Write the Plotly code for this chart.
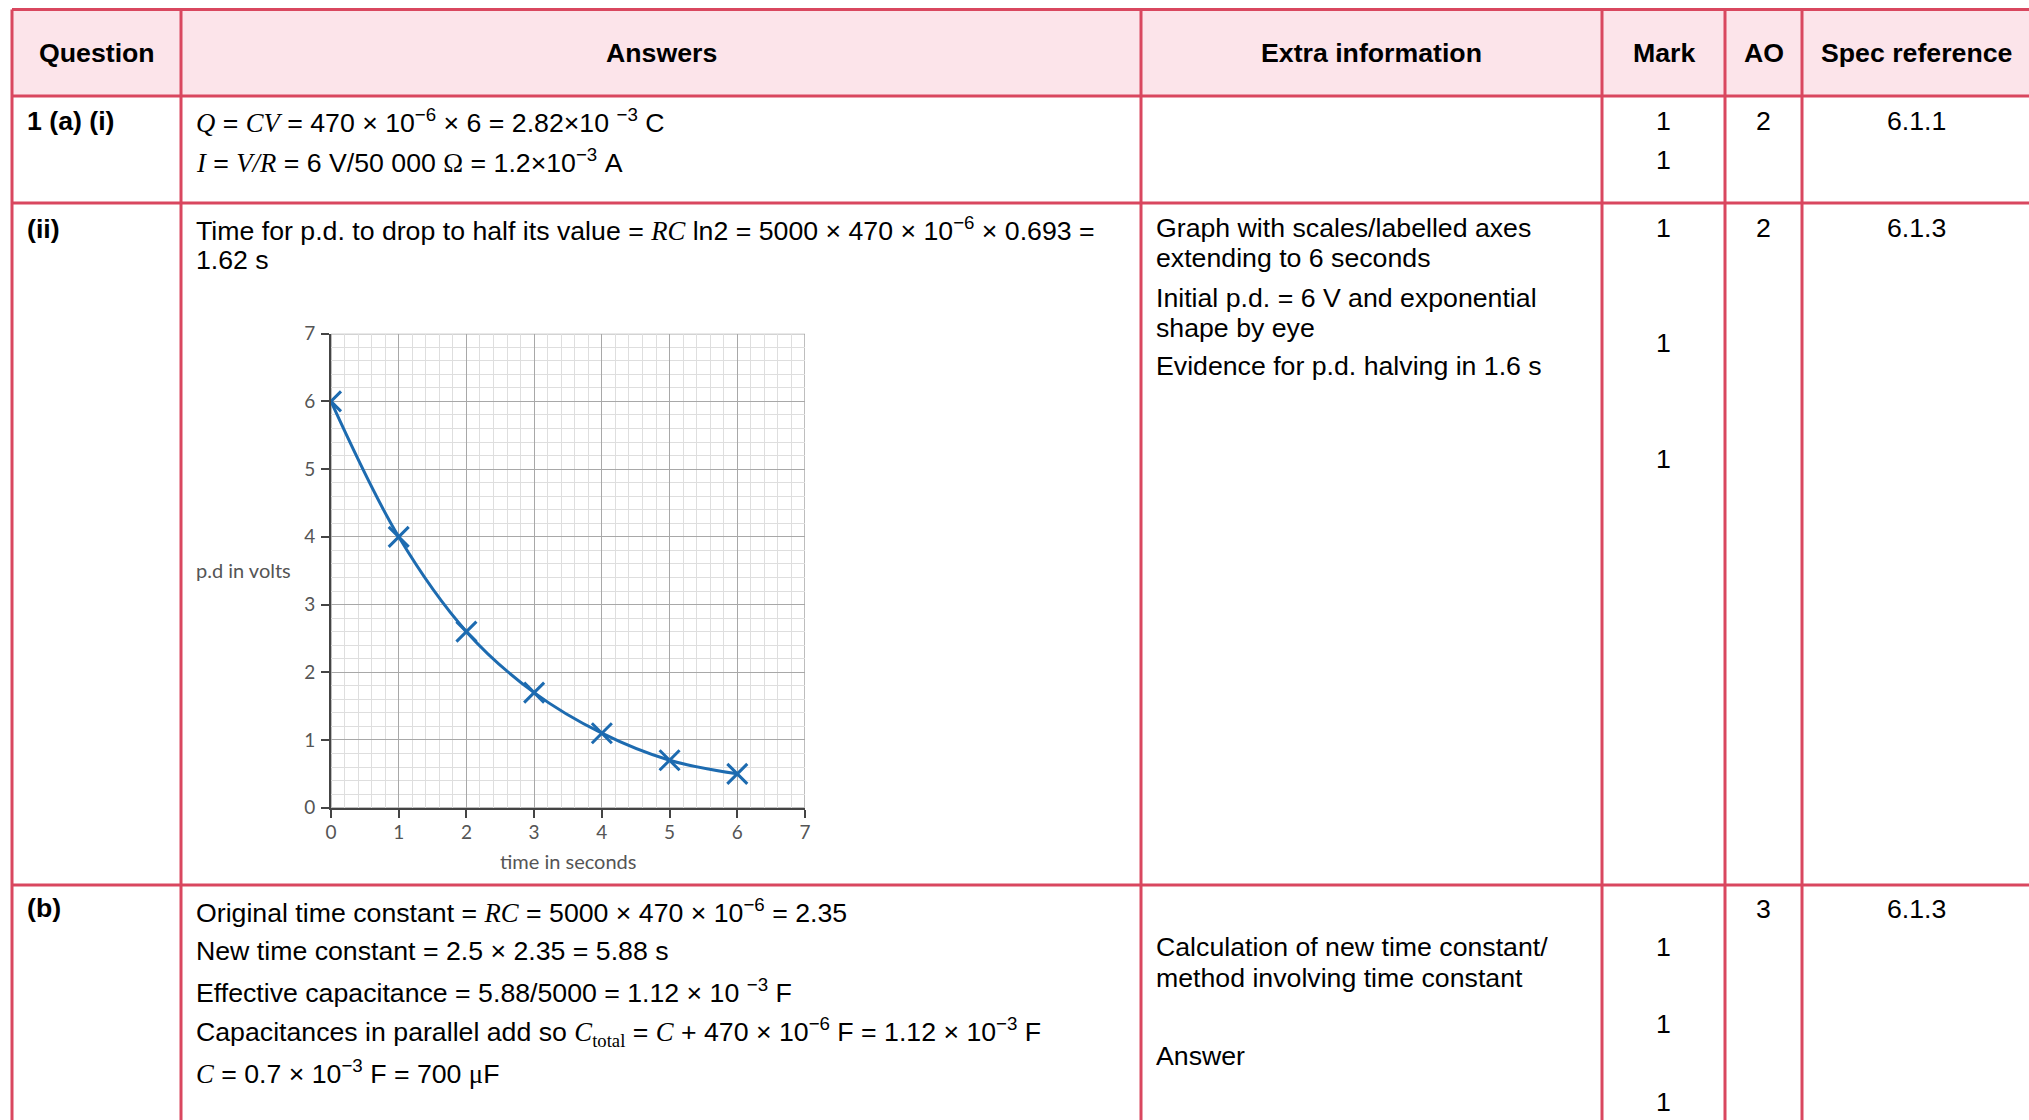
import plotly.graph_objects as go

W, H = 2029, 1120

# ---------------- chart data ----------------
time_s = [0, 1, 2, 3, 4, 5, 6]
pd_volts = [6.0, 4.0, 2.6, 1.7, 1.1, 0.7, 0.5]
axis_ticks = [0, 1, 2, 3, 4, 5, 6, 7]
x_title = "time in seconds"
y_title = "p.d in volts"

# ---------------- table text ----------------
headers = ["Question", "Answers", "Extra information", "Mark", "AO", "Spec reference"]
questions = ["1 (a) (i)", "(ii)", "(b)"]


def it(s):
    return f"<span style='font-family:Liberation Serif'><i>{s}</i></span>"


def serif(s):
    return f"<span style='font-family:Liberation Serif'>{s}</span>"


answers_1 = [
    f"{it('Q')} = {it('CV')} = 470 × 10<sup>−6</sup> × 6 = 2.82×10 <sup>−3</sup> C",
    f"{it('I')} = {it('V/R')} = 6 V/50 000 {serif('Ω')} = 1.2×10<sup>−3</sup> A",
]
answers_2 = [
    f"Time for p.d. to drop to half its value = {it('RC')} ln2 = 5000 × 470 × 10<sup>−6</sup> × 0.693 =",
    "1.62 s",
]
answers_3 = [
    f"Original time constant = {it('RC')} = 5000 × 470 × 10<sup>−6</sup> = 2.35",
    "New time constant = 2.5 × 2.35 = 5.88 s",
    "Effective capacitance = 5.88/5000 = 1.12 × 10 <sup>−3</sup> F",
    f"Capacitances in parallel add so {it('C')}<sub>{serif('total')}</sub> = {it('C')} + 470 × 10<sup>−6</sup> F = 1.12 × 10<sup>−3</sup> F",
    f"{it('C')} = 0.7 × 10<sup>−3</sup> F = 700 {serif('μ')}F",
]
extra_2 = [
    "Graph with scales/labelled axes",
    "extending to 6 seconds",
    "Initial p.d. = 6 V and exponential",
    "shape by eye",
    "Evidence for p.d. halving in 1.6 s",
]
extra_3 = [
    "Calculation of new time constant/",
    "method involving time constant",
    "Answer",
]
marks_1 = ["1", "1"]
marks_2 = ["1", "1", "1"]
marks_3 = ["1", "1", "1"]
ao_vals = ["2", "2", "3"]
spec_vals = ["6.1.1", "6.1.3", "6.1.3"]

# ---------------- layout geometry (window pixels) ----------------
col_edges = [12, 181, 1141, 1602, 1725, 1802, 2040]
row_edges = [9.5, 96, 203, 885, 1130]
BORDER = "#d9475f"
HEAD_FILL = "#fce4ea"
SANS = "Liberation Sans, Arial, sans-serif"
FS = 26.7
DY = 0


def px(x):
    return x / W


def py(y):
    return 1 - y / H


annotations = []


def text(x, y, s, anchor="left", bold=False, size=FS):
    annotations.append(dict(
        x=px(x), y=py(y + DY), xref="paper", yref="paper",
        text=f"<b>{s}</b>" if bold else s,
        showarrow=False, xanchor=anchor, yanchor="middle",
        font=dict(family=SANS, size=size, color="#000000"),
    ))


# headers
head_x = [96.5, 661, 1371.5, 1663.5, 1763.5, 1916]
for h, cx in zip(headers, head_x):
    text(cx, 53, h, anchor="center", bold=True)

# question labels
for q, y in zip(questions, [121, 229, 908]):
    text(25, y, q, bold=True)

# answers
for s, y in zip(answers_1, [121, 161]):
    text(194, y, s)
for s, y in zip(answers_2, [229, 260]):
    text(194, y, s)
for s, y in zip(answers_3, [911, 951, 991, 1032, 1072]):
    text(194, y, s)

# extra info
for s, y in zip(extra_2, [228, 258, 298, 328, 366]):
    text(1154, y, s)
for s, y in zip(extra_3, [947, 978, 1056]):
    text(1154, y, s)

# marks
mark_x = 1663.5
for s, y in zip(marks_1, [121, 160]):
    text(mark_x, y, s, anchor="center")
for s, y in zip(marks_2, [228, 343, 459]):
    text(mark_x, y, s, anchor="center")
for s, y in zip(marks_3, [947, 1024, 1102]):
    text(mark_x, y, s, anchor="center")

# AO and spec
ao_x = 1763.5
for s, y in zip(ao_vals, [121, 228, 909]):
    text(ao_x, y, s, anchor="center")
for s, y in zip(spec_vals, [121, 228, 909]):
    text(1916, y, s, anchor="center")

# chart axis titles
CHART_FONT = dict(family="Lato, Open Sans, sans-serif", size=20, color="#555555")
annotations.append(dict(x=px(568), y=py(861), xref="paper", yref="paper", text=x_title,
                        showarrow=False, xanchor="center", yanchor="middle", font=CHART_FONT))
annotations.append(dict(x=px(194), y=py(570), xref="paper", yref="paper", text=y_title,
                        showarrow=False, xanchor="left", yanchor="middle", font=CHART_FONT))

# ---------------- shapes: table ----------------
shapes = [dict(type="rect", xref="paper", yref="paper",
               x0=px(col_edges[0]), x1=px(col_edges[-1]),
               y0=py(row_edges[0]), y1=py(row_edges[1]),
               fillcolor=HEAD_FILL, line=dict(width=0), layer="below")]
for y in row_edges:
    shapes.append(dict(type="line", xref="paper", yref="paper",
                       x0=px(col_edges[0]), x1=px(col_edges[-1]), y0=py(y), y1=py(y),
                       line=dict(color=BORDER, width=3)))
for x in col_edges:
    shapes.append(dict(type="line", xref="paper", yref="paper",
                       x0=px(x), x1=px(x), y0=py(row_edges[0]), y1=py(row_edges[-1]),
                       line=dict(color=BORDER, width=3)))
# chart frame (top / right)
shapes.append(dict(type="rect", xref="x", yref="y", x0=axis_ticks[0], x1=axis_ticks[-1],
                   y0=axis_ticks[0], y1=axis_ticks[-1],
                   line=dict(color="#a8a8a8", width=1.5), layer="below"))

BLUE = "#1d6bb0"
fig = go.Figure()
fig.add_trace(go.Scatter(
    x=time_s, y=pd_volts, mode="lines+markers",
    line=dict(color=BLUE, width=3, shape="spline", smoothing=1.0),
    marker=dict(symbol="x-thin", size=20, line=dict(color=BLUE, width=3), color=BLUE),
    hoverinfo="skip", showlegend=False,
))

axis_common = dict(
    range=[axis_ticks[0], axis_ticks[-1]], tickvals=axis_ticks,
    ticktext=[str(t) for t in axis_ticks],
    showgrid=True, gridcolor="#a8a8a8", gridwidth=1,
    minor=dict(dtick=0.2, tick0=0, showgrid=True, gridcolor="#dedede", gridwidth=1),
    showline=True, linecolor="#444444", linewidth=2,
    ticks="outside", ticklen=8, tickwidth=2, tickcolor="#444444",
    tickfont=dict(family="Lato, Open Sans, sans-serif", size=19, color="#555555"),
    zeroline=False, fixedrange=True, automargin=False,
)
fig.update_layout(
    width=W, height=H,
    margin=dict(l=0, r=0, t=0, b=0, pad=0, autoexpand=False),
    paper_bgcolor="white", plot_bgcolor="white",
    xaxis=dict(domain=[px(331), px(805)], ticklabelstandoff=-2, **axis_common),
    yaxis=dict(domain=[py(807.7), py(333.7)], ticklabelstandoff=2, **axis_common),
    shapes=shapes, annotations=annotations,
    showlegend=False,
)

fig.write_html("out.html", config={"displayModeBar": False, "staticPlot": True},
               post_script="document.body.style.margin='0';document.body.style.overflow='hidden';")
